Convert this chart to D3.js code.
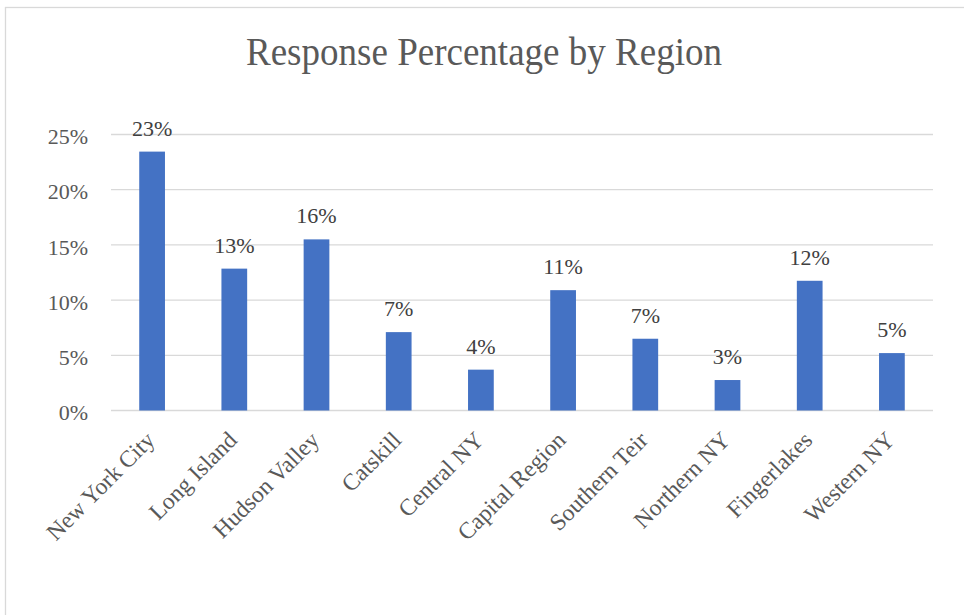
<!DOCTYPE html>
<html>
<head>
<meta charset="utf-8">
<script src="https://cdn.jsdelivr.net/npm/d3@7"></script>
<style>
  html, body { margin: 0; padding: 0; background: #fff; }
  svg { display: block; }
</style>
</head>
<body>
<svg id="chart" width="964" height="615"></svg>
<script>
const categories = ["New York City", "Long Island", "Hudson Valley", "Catskill", "Central NY",
  "Capital Region", "Southern Teir", "Northern NY", "Fingerlakes", "Western NY"];
const values = [23.45, 12.85, 15.5, 7.1, 3.7, 10.9, 6.5, 2.76, 11.75, 5.2];
const yTicks = [0, 5, 10, 15, 20, 25];
const title = "Response Percentage by Region";

const svg = d3.select("#chart");
const pLeft = 111, pRight = 933, pTop = 134.5, pBottom = 410.5;
const font = "'Liberation Serif', 'Times New Roman', serif";

// chart border (cropped on right/bottom)
svg.append("rect").attr("x", 5.5).attr("y", 7.5).attr("width", 1200).attr("height", 1200)
  .attr("fill", "#fff").attr("stroke", "#d9d9d9").attr("stroke-width", 1.3);

const x = d3.scaleBand().domain(categories).range([pLeft, pRight]).paddingInner(0.687).paddingOuter(0.3435);
const y = d3.scaleLinear().domain([0, 25]).range([pBottom, pTop]);

// gridlines
svg.append("g").selectAll("line").data(yTicks).join("line")
  .attr("x1", pLeft).attr("x2", pRight)
  .attr("y1", d => y(d)).attr("y2", d => y(d))
  .attr("stroke", "#d9d9d9").attr("stroke-width", 1.3);

// y axis labels
const yAxis = d3.axisLeft(y).tickValues(yTicks).tickFormat(d => d + "%").tickSize(0).tickPadding(0);
const gy = svg.append("g").attr("transform", `translate(88,0)`).call(yAxis);
gy.select(".domain").remove();
gy.selectAll("text").attr("font-family", font).attr("font-size", 22).attr("fill", "#595959").attr("dy", "0.42em");

// bars
svg.append("g").selectAll("rect").data(values).join("rect")
  .attr("x", (d, i) => x(categories[i]))
  .attr("width", x.bandwidth())
  .attr("y", d => y(d))
  .attr("height", d => y(0) - y(d))
  .attr("fill", "#4472C4");

// data labels
svg.append("g").selectAll("text").data(values).join("text")
  .attr("x", (d, i) => x(categories[i]) + x.bandwidth() / 2)
  .attr("y", d => y(d) - 16)
  .attr("text-anchor", "middle")
  .attr("font-family", font).attr("font-size", 22).attr("fill", "#404040")
  .text(d => Math.round(d) + "%");

// x axis labels
const xAxis = d3.axisBottom(x).tickSize(0).tickPadding(0);
const gx = svg.append("g").attr("transform", `translate(0,${pBottom})`).call(xAxis);
gx.select(".domain").remove();
gx.selectAll("text")
  .attr("font-family", font).attr("font-size", 23.5).attr("fill", "#595959")
  .attr("text-anchor", "end")
  .attr("y", 0).attr("dy", 0)
  .attr("transform", "translate(4,31) rotate(-45)");

// title
svg.append("text").attr("transform", "translate(484,65) scale(0.95,1)")
  .attr("text-anchor", "middle")
  .attr("font-family", font).attr("font-size", 39).attr("fill", "#595959")
  .text(title);
</script>
</body>
</html>
